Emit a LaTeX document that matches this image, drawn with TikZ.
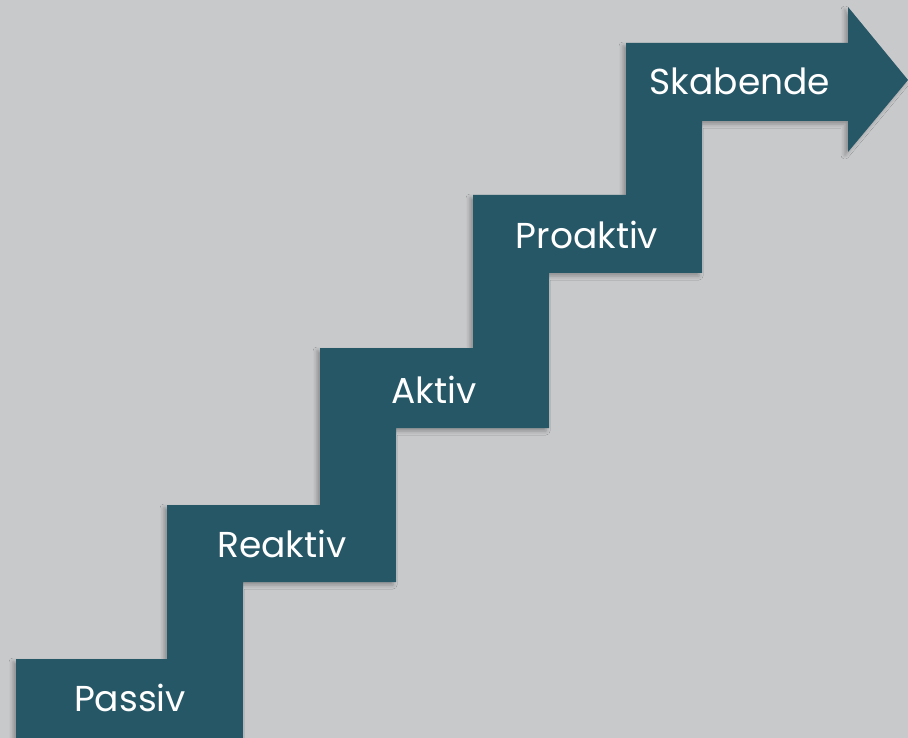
\documentclass[tikz,border=0pt]{standalone}
\usepackage{fontspec}
\setmainfont{Poppins}
\usetikzlibrary{shadows.blur}
\definecolor{bgcol}{RGB}{200,201,203}
\definecolor{teal}{RGB}{38,87,103}
\begin{document}
\begin{tikzpicture}[x=1pt,y=-1pt,
  steplabel/.style={text=white,font=\fontsize{36}{43}\selectfont,inner sep=0pt,anchor=center}]
\fill[bgcol] (0,0) rectangle (908,738);
\useasboundingbox (0,0) rectangle (908,738);
\fill[teal, blur shadow={shadow xshift=-3pt, shadow yshift=-3pt, shadow blur radius=4pt, shadow opacity=30}]
  (16,738) -- (16,659) -- (167,659) -- (167,505) -- (320,505) -- (320,348)
  -- (473,348) -- (473,195) -- (626,195) -- (626,43) -- (848,43) -- (848,7)
  -- (908,80) -- (848,152) -- (848,121) -- (702,121) -- (702,273) -- (549,273)
  -- (549,428) -- (396,428) -- (396,582) -- (243,582) -- (243,738) -- cycle;
\node[steplabel] (passiv) at (130,698) {Passiv};
\node[steplabel] (reaktiv) at (282,544) {Reaktiv};
\node[steplabel] (aktiv) at (434,390) {Aktiv};
\node[steplabel] (proaktiv) at (587,235) {Proaktiv};
\node[steplabel] (skabende) at (740,81) {Skabende};
\end{tikzpicture}
\end{document}
